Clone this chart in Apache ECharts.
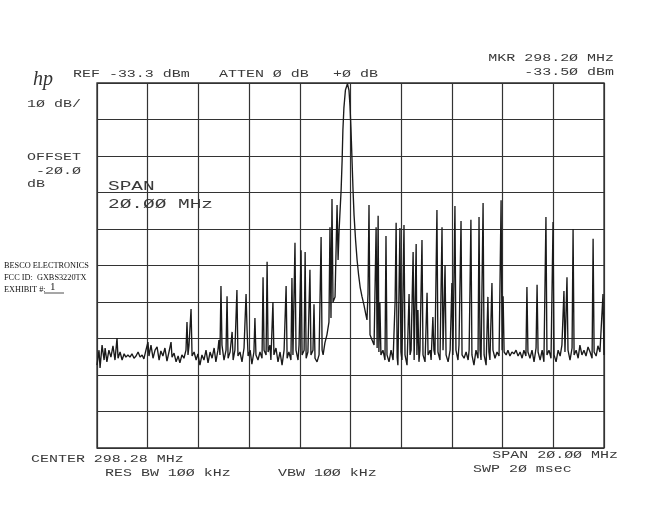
<!DOCTYPE html>
<html>
<head>
<meta charset="utf-8">
<script src="https://cdn.jsdelivr.net/npm/echarts@6/dist/echarts.min.js"></script>
<style>
html,body{margin:0;padding:0;background:#fff;}
#c{width:650px;height:516px;}
</style>
</head>
<body>
<div id="c"></div>
<script>
// Instrument settings (from the annotations)
const REF_LEVEL_DBM = -33.3;
const CENTER_MHZ = 298.28;
const SPAN_MHZ = 20.0;
const DB_PER_DIV = 10;

// Trace: [frequency MHz, level dBm]
const traceLow = [
[288.28,-110.6],[288.36,-106.5],[288.40,-111.4],[288.48,-105.1],[288.56,-109.2],[288.60,-105.9],[288.67,-109.7],[288.75,-106.5],[288.83,-108.4],[288.91,-105.3],[288.99,-109.2],[289.07,-103.2],[289.11,-108.7],[289.19,-107.0],[289.27,-109.2],[289.35,-107.5],[289.42,-108.4],[289.50,-107.8],[289.58,-108.4],[289.66,-107.5],[289.74,-108.7],[289.82,-108.1],[289.90,-107.0],[289.98,-108.4],[290.06,-107.8],[290.13,-108.9],[290.21,-106.5],[290.29,-104.3],[290.33,-108.1],[290.41,-105.1],[290.49,-108.7],[290.57,-106.5],[290.65,-105.6],[290.73,-109.2],[290.80,-106.7],[290.88,-108.1],[290.96,-105.9],[291.04,-109.5],[291.12,-107.0],[291.20,-104.3],[291.24,-108.4],[291.32,-107.3],[291.40,-109.7],[291.48,-108.1],[291.55,-110.0],[291.63,-107.8],[291.71,-108.7],[291.79,-106.5],[291.83,-98.8],[291.87,-107.8],[291.91,-105.1],[291.99,-95.2],[292.03,-108.1],[292.11,-107.0],[292.19,-109.2],[292.26,-107.5],[292.34,-110.6],[292.42,-107.8],[292.50,-109.2],[292.58,-106.5],[292.66,-110.0],[292.74,-107.0],[292.82,-108.7],[292.90,-105.9],[292.97,-109.7],[293.05,-106.5],[293.09,-103.7],[293.13,-107.8],[293.17,-88.9],[293.21,-105.1],[293.29,-109.2],[293.37,-106.5],[293.41,-91.7],[293.45,-108.7],[293.53,-107.0],[293.61,-101.5],[293.65,-109.2],[293.72,-106.5],[293.80,-90.0],[293.84,-108.1],[293.92,-107.0],[294.00,-109.7],[294.08,-105.9],[294.16,-91.1],[294.20,-100.9],[294.24,-108.1],[294.32,-106.5],[294.39,-110.3],[294.47,-107.0],[294.51,-97.7],[294.55,-107.8],[294.63,-109.2],[294.71,-107.0],[294.79,-108.7],[294.83,-86.5],[294.87,-106.5],[294.95,-107.8],[294.99,-82.3],[295.03,-107.0],[295.10,-105.1],[295.14,-109.2],[295.22,-93.3],[295.26,-107.8],[295.34,-105.9],[295.42,-109.7],[295.50,-107.0],[295.58,-110.6],[295.66,-106.5],[295.74,-88.9],[295.78,-108.7],[295.85,-107.0],[295.93,-109.2],[295.97,-86.7],[296.01,-107.8],[296.09,-77.1],[296.13,-106.5],[296.21,-109.2],[296.25,-105.1],[296.33,-79.1],[296.37,-107.8],[296.45,-106.5],[296.49,-79.6],[296.53,-108.7],[296.60,-107.0],[296.68,-84.5],[296.72,-107.8],[296.80,-106.5],[296.84,-93.9],[296.88,-108.7],[296.96,-109.7],[297.04,-107.8],[297.12,-75.5],[297.16,-106.5],[297.20,-107.8]
];

const carrier = [
[297.27,-104.5],[297.35,-102.3],[297.43,-98.8],[297.47,-72.8],[297.51,-97.7],[297.55,-65.1],[297.59,-93.3],[297.67,-91.9],[297.75,-66.7],[297.79,-81.8],[297.83,-73.6],[297.91,-62.6],[297.95,-54.4],[297.98,-46.2],[298.02,-40.1],[298.08,-35.2],[298.16,-33.5],[298.22,-35.3],[298.26,-39.5],[298.30,-46.2],[298.34,-54.4],[298.38,-62.6],[298.42,-69.5],[298.48,-76.3],[298.54,-81.8],[298.60,-85.9],[298.66,-89.2],[298.73,-91.7],[298.81,-94.1],[298.89,-96.9],[298.93,-98.2],[298.97,-91.1],[299.01,-66.7],[299.05,-102.3],[299.13,-103.7],[299.21,-105.1],[299.29,-72.8],[299.33,-105.9],[299.37,-69.7],[299.40,-107.0],[299.44,-93.6],[299.48,-107.8]
];

const traceHigh = [
[299.56,-106.5],[299.64,-109.2],[299.68,-75.2],[299.72,-107.8],[299.80,-109.7],[299.88,-106.5],[299.96,-109.2],[300.04,-93.0],[300.08,-71.6],[300.12,-108.4],[300.15,-110.6],[300.23,-73.0],[300.27,-107.0],[300.31,-109.2],[300.39,-72.2],[300.43,-107.8],[300.51,-110.6],[300.59,-91.1],[300.63,-107.8],[300.67,-106.5],[300.75,-79.6],[300.79,-109.2],[300.87,-77.4],[300.90,-107.8],[300.94,-95.5],[300.98,-109.7],[301.02,-106.5],[301.10,-76.3],[301.14,-107.8],[301.22,-109.7],[301.30,-90.8],[301.34,-107.8],[301.42,-106.5],[301.46,-109.2],[301.53,-97.4],[301.57,-106.5],[301.61,-107.8],[301.69,-68.1],[301.73,-107.0],[301.81,-109.2],[301.89,-72.8],[301.93,-106.5],[302.01,-83.2],[302.05,-107.8],[302.13,-109.7],[302.21,-106.5],[302.28,-88.1],[302.32,-107.8],[302.40,-67.0],[302.44,-106.5],[302.52,-109.2],[302.56,-105.1],[302.64,-71.1],[302.68,-107.8],[302.76,-108.7],[302.84,-107.0],[302.92,-109.2],[302.96,-106.5],[303.03,-70.8],[303.07,-107.8],[303.15,-110.6],[303.23,-106.5],[303.31,-108.7],[303.35,-70.0],[303.39,-106.5],[303.43,-109.2],[303.51,-66.2],[303.55,-107.8],[303.63,-110.6],[303.70,-91.9],[303.74,-107.0],[303.78,-109.2],[303.86,-88.1],[303.90,-106.5],[303.98,-108.7],[304.06,-107.0],[304.14,-108.1],[304.22,-65.4],[304.26,-106.5],[304.30,-91.7],[304.34,-107.0],[304.42,-107.8],[304.49,-106.5],[304.57,-108.1],[304.65,-107.0],[304.73,-107.5],[304.81,-106.5],[304.89,-108.1],[304.97,-107.0],[305.05,-108.7],[305.12,-106.5],[305.20,-108.1],[305.24,-89.2],[305.28,-107.0],[305.36,-108.7],[305.44,-106.5],[305.52,-109.7],[305.60,-105.9],[305.64,-88.6],[305.68,-107.0],[305.76,-109.2],[305.84,-106.5],[305.91,-109.7],[305.99,-70.0],[306.03,-107.8],[306.11,-106.5],[306.19,-108.7],[306.27,-71.4],[306.31,-107.8],[306.39,-109.7],[306.47,-106.5],[306.55,-108.1],[306.62,-105.1],[306.70,-90.3],[306.74,-107.0],[306.82,-86.5],[306.86,-106.5],[306.94,-109.2],[307.02,-105.9],[307.06,-73.3],[307.10,-107.8],[307.18,-106.5],[307.26,-108.7],[307.33,-105.1],[307.41,-107.8],[307.49,-106.5],[307.57,-108.1],[307.65,-105.6],[307.73,-107.0],[307.81,-108.7],[307.85,-76.0],[307.89,-107.0],[307.97,-108.1],[308.04,-105.3],[308.12,-107.0],[308.16,-106.5],[308.24,-91.1],[308.28,-107.8]
];

// Annotation texts
const headerTexts = ['REF -33.3 dBm', 'ATTEN \u00d8 dB', '+\u00d8 dB'];
const markerTexts = ['MKR 298.2\u00d8 MHz', '-33.5\u00d8 dBm'];
const sideTexts = ['1\u00d8 dB/', 'OFFSET', ' -2\u00d8.\u00d8', 'dB'];
const spanTexts = ['SPAN', '2\u00d8.\u00d8\u00d8 MHz'];
const footerTexts = ['CENTER 298.28 MHz', 'RES BW 1\u00d8\u00d8 kHz', 'VBW 1\u00d8\u00d8 kHz', 'SPAN 2\u00d8.\u00d8\u00d8 MHz', 'SWP 2\u00d8 msec'];
const stampTexts = ['BESCO ELECTRONICS', 'FCC ID:  GXBS3220TX', 'EXHIBIT #:'];

const traceData = traceLow.concat(carrier, traceHigh)
  .map(([f, p]) => [f - CENTER_MHZ, p - REF_LEVEL_DBM]);

const MONO = '"Liberation Mono", "DejaVu Sans Mono", monospace';
const INK = '#3a3a3a';
function t(x, y, text, opts) {
  opts = opts || {};
  return {
    type: 'text', x: x, y: y,
    scaleX: opts.sx || 1.36, scaleY: 1,
    style: {
      text: text,
      fill: opts.fill || INK,
      font: (opts.font || ('11px ' + MONO)),
      textAlign: opts.align || 'left',
      textVerticalAlign: 'middle'
    },
    silent: true
  };
}

const chart = echarts.init(document.getElementById('c'), null, {renderer: 'canvas'});
const gridLine = {color: '#333', width: 1.2};
chart.setOption({
  animation: false,
  backgroundColor: '#ffffff',
  grid: {left: 97, top: 83, width: 507, height: 365, show: true, borderColor: '#2e2e2e', borderWidth: 1.3, backgroundColor: 'transparent'},
  xAxis: {
    type: 'value', min: -SPAN_MHZ / 2, max: SPAN_MHZ / 2, interval: SPAN_MHZ / 10,
    axisLine: {show: false}, axisTick: {show: false}, axisLabel: {show: false},
    splitLine: {show: true, lineStyle: gridLine}
  },
  yAxis: {
    type: 'value', min: -10 * DB_PER_DIV, max: 0, interval: DB_PER_DIV,
    axisLine: {show: false}, axisTick: {show: false}, axisLabel: {show: false},
    splitLine: {show: true, lineStyle: gridLine}
  },
  series: [{
    type: 'line',
    data: traceData,
    showSymbol: false,
    symbol: 'none',
    sampling: null,
    lineStyle: {color: '#1a1a1a', width: 1.35},
    z: 3
  }],
  graphic: [
    {type: 'text', x: 33, y: 80, silent: true,
     style: {text: 'hp', font: 'italic 20px "Liberation Serif", serif', fill: '#333', textVerticalAlign: 'middle'}},
    t(73, 74, headerTexts[0]),
    t(219, 74, headerTexts[1]),
    t(333, 74, headerTexts[2]),
    t(614, 58, markerTexts[0], {align: 'right'}),
    t(614, 72, markerTexts[1], {align: 'right'}),
    t(27, 104, sideTexts[0]),
    t(27, 157, sideTexts[1]),
    t(27, 171, sideTexts[2]),
    t(27, 184, sideTexts[3]),
    t(108, 186, spanTexts[0], {font: '13.5px ' + MONO, sx: 1.44}),
    t(108, 204, spanTexts[1], {font: '13.5px ' + MONO, sx: 1.44}),
    t(31, 459, footerTexts[0]),
    t(105, 473, footerTexts[1]),
    t(278, 473, footerTexts[2]),
    t(618, 455, footerTexts[3], {align: 'right'}),
    t(473, 469, footerTexts[4]),
    t(4, 266, stampTexts[0], {font: '9px "Liberation Serif", serif', sx: 0.92, fill: '#111'}),
    t(4, 278, stampTexts[1], {font: '9px "Liberation Serif", serif', sx: 0.92, fill: '#111'}),
    t(4, 290, stampTexts[2], {font: '9px "Liberation Serif", serif', sx: 0.92, fill: '#111'}),
    {type: 'text', x: 50, y: 287, silent: true,
     style: {text: '1', font: '11px "Liberation Serif", serif', fill: '#222', textVerticalAlign: 'middle'}},
    {type: 'line', silent: true, shape: {x1: 44, y1: 293, x2: 64, y2: 293}, style: {stroke: '#222', lineWidth: 0.8}}
  ]
});
</script>
</body>
</html>
